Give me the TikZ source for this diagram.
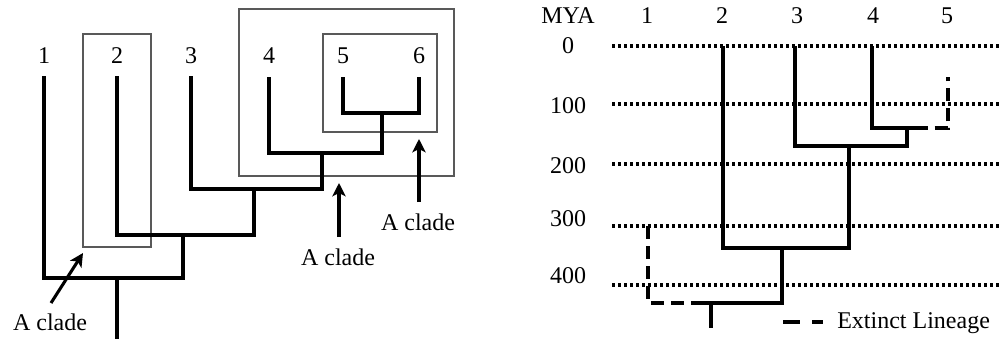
\documentclass[tikz,border=0pt]{standalone}
\usepackage{fontspec}
\setmainfont{Liberation Serif}
\usetikzlibrary{arrows.meta}
\begin{document}
\begin{tikzpicture}[x=0.75pt,y=-0.75pt,
  lab/.style={anchor=base,inner sep=0pt,font=\fontsize{18}{20}\selectfont},
  tree/.style={line width=2.3pt,line join=miter,line cap=butt},
  extinct/.style={tree,dash pattern=on 10pt off 5pt},
  clade/.style={draw=black!65,line width=0.9pt},
  arr/.style={line width=2.3pt,-{Stealth[length=10pt,width=10pt,inset=2.5pt]}},
  grid/.style={line width=2.6pt,dash pattern=on 2.3pt off 2.2pt}]
\useasboundingbox (0,0) rectangle (1000,339);

% ---------- cladogram ----------
\node[lab] (a1) at (44,63) {1};
\node[lab] (a2) at (117,63) {2};
\node[lab] (a3) at (191,63) {3};
\node[lab] (a4) at (269,63) {4};
\node[lab] (a5) at (343,63) {5};
\node[lab] (a6) at (419,63) {6};

\coordinate (t1) at (44,76);
\coordinate (t2) at (117,76);
\coordinate (t3) at (191,76);
\coordinate (t4) at (269,77);
\coordinate (t5) at (343,77);
\coordinate (t6) at (419,77);
\coordinate (n56) at (382,113);
\coordinate (n456) at (322,153);
\coordinate (n3456) at (254,189);
\coordinate (n23456) at (183,235);
\coordinate (nroot) at (117,278);
\coordinate (stem) at (117,339);

% clade boxes
\draw[clade] (83,34) rectangle (151,247);
\draw[clade] (239,9) rectangle (454,176);
\draw[clade] (323,34) rectangle (437,132);

\draw[tree] (t5) |- (n56) -| (t6);
\draw[tree] (t4) |- (n456) -| (n56);
\draw[tree] (t3) |- (n3456) -| (n456);
\draw[tree] (t2) |- (n23456) -| (n3456);
\draw[tree] (t1) |- (nroot) -| (n23456);
\draw[tree] (nroot) -- (stem);

% labels pointing at the clades
\node[lab] (c1) at (50,330) {A clade};
\node[lab] (c2) at (338,265) {A clade};
\node[lab] (c3) at (418,230) {A clade};
\coordinate (c1t) at (51,303);
\coordinate (c1h) at (83,253);
\coordinate (c2t) at (339,237);
\coordinate (c2h) at (339,183);
\coordinate (c3t) at (419,202);
\coordinate (c3h) at (419,139);
\draw[arr] (c1t) -- (c1h);
\draw[arr] (c2t) -- (c2h);
\draw[arr] (c3t) -- (c3h);

% ---------- dated tree ----------
\node[lab] (mya) at (568,23) {MYA};
\node[lab] (b1) at (647,23) {1};
\node[lab] (b2) at (722,23) {2};
\node[lab] (b3) at (797,23) {3};
\node[lab] (b4) at (873,23) {4};
\node[lab] (b5) at (947,23) {5};

\node[lab] (y0) at (568,53) {0};
\node[lab] (y1) at (568,113) {100};
\node[lab] (y2) at (568,173) {200};
\node[lab] (y3) at (568,226) {300};
\node[lab] (y4) at (568,283) {400};

\foreach \y in {46,104,164,226,285}
  \draw[grid] (612,\y) -- (1000,\y);

\coordinate (r1) at (648,226);
\coordinate (r2) at (723,46);
\coordinate (r3) at (795,46);
\coordinate (r4) at (872,46);
\coordinate (r5) at (948,77);
\coordinate (n45) at (907,128);
\coordinate (s45) at (928,128);
\coordinate (n345) at (849,146);
\coordinate (n2345) at (782,248);
\coordinate (s1) at (700,303);
\coordinate (rroot) at (711,303);
\coordinate (rstem) at (711,328);

\draw[tree] (r4) |- (n45) -- (s45);
\draw[extinct,dash phase=10pt] (s45) -| (r5);
\draw[tree] (r3) |- (n345) -| (n45);
\draw[tree] (r2) |- (n2345) -| (n345);
\draw[tree] (s1) -| (n2345);
\draw[extinct] (r1) |- (s1);
\draw[tree] (rroot) -- (rstem);

% legend
\coordinate (k1) at (783,322);
\coordinate (k2) at (823,322);
\draw[tree,dash pattern=on 12.75pt off 9pt] (k1) -- (k2);
\node[lab,anchor=base west] (ktxt) at (837,328) {Extinct Lineage};
\end{tikzpicture}
\end{document}
